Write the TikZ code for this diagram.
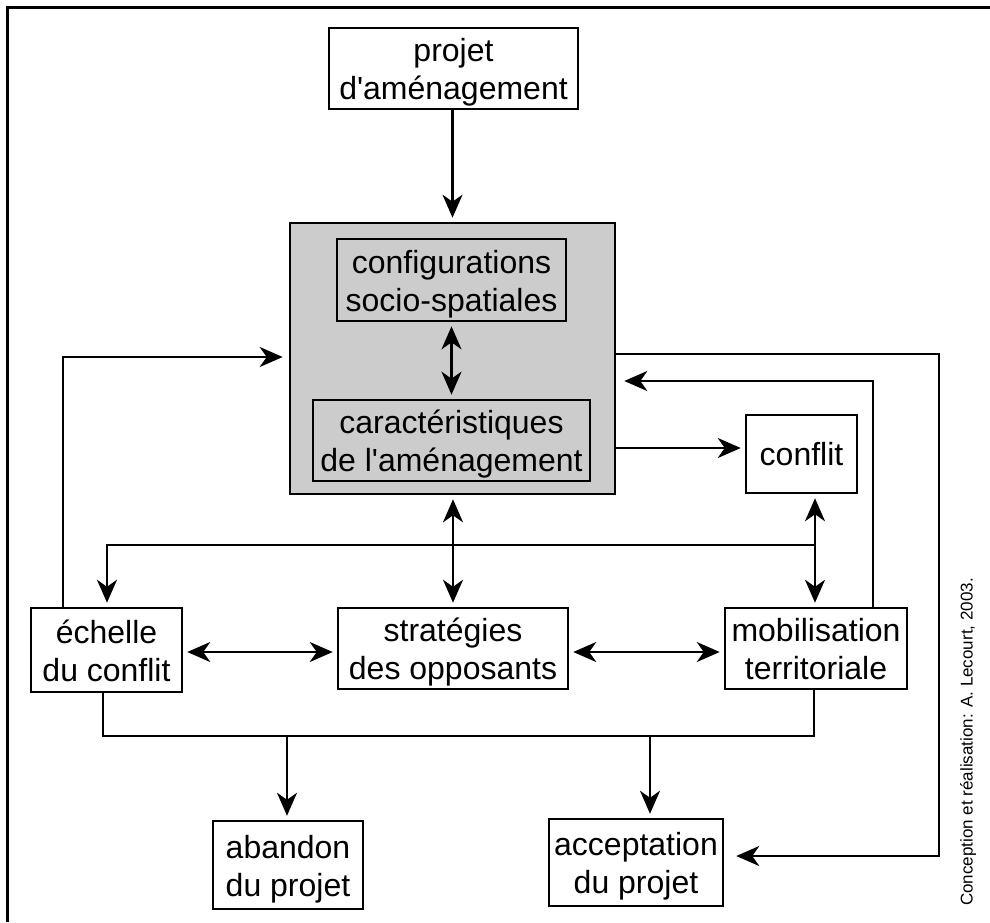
\documentclass[tikz,border=0pt]{standalone}
\usepackage{fontspec}
\setmainfont{Liberation Sans}[Ligatures=TeXOff]
\usetikzlibrary{arrows.meta}
\newcommand{\tstrut}{\rule{0pt}{31pt}}
\newcommand{\bstrut}{\rule[-7pt]{0pt}{7pt}}
\begin{document}
\begin{tikzpicture}[x=1pt,y=-1pt,
  box/.style={draw, line width=2.5pt, align=center, inner sep=0pt,
    font=\fontsize{32}{38}\selectfont},
  conn/.style={line width=2.3pt, shorten >=4pt},
  dconn/.style={line width=2.3pt, shorten >=4pt, shorten <=4pt},
  >={Stealth[length=23pt,width=20pt,inset=7pt]}]
\useasboundingbox (0,0) rectangle (990,922);
\definecolor{panel}{RGB}{204,204,204}
% frame
\draw[line width=3pt] (7,922) -- (7,7) -- (990,7);
% nodes
\node[box, line width=1.3pt, minimum width=249pt, minimum height=81pt] (projet) at (453.5,68.5) {\tstrut projet\\d'aménagement\bstrut};
\node[draw, line width=2.6pt, fill=panel, minimum width=325pt, minimum height=271pt, inner sep=0pt] (gray) at (452.5,358.5) {};
\node[box, line width=2.7pt, minimum width=229pt, minimum height=82pt] (config) at (451.5,280) {\tstrut configurations\\socio-spatiales\bstrut};
\node[box, line width=2.7pt, minimum width=277pt, minimum height=81pt] (caract) at (451.5,440.5) {\tstrut caractéristiques\\de l'aménagement\bstrut};
\node[box, minimum width=111pt, minimum height=78pt] (conflit) at (801.5,454) {conflit};
\node[box, minimum width=151pt, minimum height=84pt] (echelle) at (106.5,650) {\tstrut échelle\\du conflit\bstrut};
\node[box, minimum width=230pt, minimum height=81pt] (strat) at (453,648.5) {\tstrut stratégies\\des opposants\bstrut};
\node[box, minimum width=182pt, minimum height=81pt] (mobil) at (816,648.5) {\tstrut mobilisation\\territoriale\bstrut};
\node[box, minimum width=150pt, minimum height=88pt] (abandon) at (288,865) {\tstrut abandon\\du projet\bstrut};
\node[box, minimum width=174pt, minimum height=87pt] (accept) at (636,862.5) {\tstrut acceptation\\du projet\bstrut};
\node[rotate=90, inner sep=0pt, font=\fontsize{17}{18}\selectfont] (credit) at (968,742) {Conception et réalisation: A. Lecourt, 2003.};
% helper coordinates
\coordinate (l1) at (63,357);
\coordinate (r1) at (939,354);
\coordinate (r2) at (939,856);
\coordinate (i1) at (873,381);
\coordinate (c6) at (617,448);
\coordinate (c7) at (815,545);
\coordinate (c8) at (107,545);
\coordinate (h) at (0,652);
\coordinate (b1) at (103,736);
\coordinate (b2) at (814,736);
\coordinate (b3) at (287,736);
\coordinate (b4) at (650,736);
% connectors
\draw[conn,->] (projet.south -| gray.north) -- (gray.north);
\draw[dconn,<->] (config) -- (caract);
\draw[conn,->,shorten >=6pt] (echelle.north -| l1) -- (l1) -- (gray.west |- l1);
\draw[conn,->,shorten >=12pt] (gray.east |- r1) -- (r1) -- (r2) -- (accept.east |- r2);
\draw[conn,->,shorten >=8pt] (mobil.north -| i1) -- (i1) -- (gray.east |- i1);
\draw[conn,->] (gray.east |- c6) -- (conflit.west |- c6);
\draw[dconn,<->] (conflit.south -| c7) -- (mobil.north -| c7);
\draw[conn,->] (c7) -- (c8) -- (echelle.north -| c8);
\draw[dconn,<->] (strat.north |- gray.south) -- (strat.north);
\draw[dconn,<->] (echelle.east |- h) -- (strat.west |- h);
\draw[dconn,<->] (strat.east |- h) -- (mobil.west |- h);
\draw[line width=2.3pt] (echelle.south -| b1) -- (b1) -- (b2) -- (mobil.south -| b2);
\draw[conn,->] (b3) -- (abandon.north -| b3);
\draw[conn,->] (b4) -- (accept.north -| b4);
\end{tikzpicture}
\end{document}
